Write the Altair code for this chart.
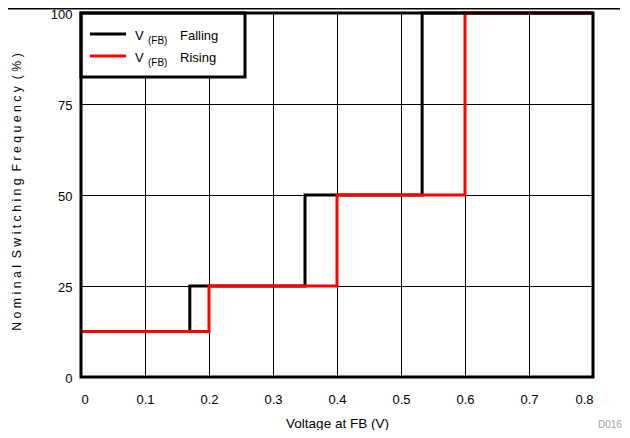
import altair as alt
import pandas as pd

# ---- data ----
series = ["Falling", "Rising"]
colors = ["#000000", "#ff0000"]
volts_falling = [0.0, 0.17, 0.35, 0.533, 0.8]
freq_falling = [12.5, 25, 50, 100, 100]
volts_rising = [0.0, 0.2, 0.4, 0.6, 0.8]
freq_rising = [12.5, 25, 50, 100, 100]
x_ticks = [0, 0.1, 0.2, 0.3, 0.4, 0.5, 0.6, 0.7, 0.8]
y_ticks = [0, 25, 50, 75, 100]
x_title = "Voltage at FB (V)"
y_words = ["Nominal", "Switching", "Frequency", "(%)"]
note = "D016"

NB = "\u00a0"
y_title = (NB * 2).join(NB.join(list(w)) for w in y_words)

FONT = "Liberation Sans"
W, H = 512, 364

df = pd.concat([
    pd.DataFrame({"v": volts_falling, "f": freq_falling, "s": series[0], "o": 0}),
    pd.DataFrame({"v": volts_rising, "f": freq_rising, "s": series[1], "o": 1}),
])
one = pd.DataFrame({"k": [0]})

lines = alt.Chart(df).mark_line(interpolate="step-after", strokeWidth=3).encode(
    x=alt.X("v:Q", scale=alt.Scale(domain=[0, 0.8], nice=False),
            axis=alt.Axis(values=x_ticks, title=x_title,
                          labelExpr="datum.value == 0 ? '0' : format(datum.value, '.1f')",
                          labelPadding=16, titleX=W / 2, titleY=50,
                          titleBaseline="alphabetic", titleFontSize=13.5)),
    y=alt.Y("f:Q", scale=alt.Scale(domain=[0, 100], nice=False),
            axis=alt.Axis(values=y_ticks, title=y_title, format="d",
                          labelPadding=9, labelOffset=1, titleX=-64.5, titleY=178.5,
                          titleAngle=270, titleAlign="center",
                          titleBaseline="middle", titleFontSize=12.3)),
    color=alt.Color("s:N", scale=alt.Scale(domain=series, range=colors), legend=None),
    detail="o:O",
)

base1 = alt.Chart(one)

legend_box = base1.mark_rect(fill="white", stroke="black", strokeWidth=3).encode(
    x=alt.value(0), x2=alt.value(164), y=alt.value(0), y2=alt.value(64))

legend_parts = [legend_box]
rows_y = [21, 43]
for i, s in enumerate(series):
    yy = rows_y[i]
    legend_parts.append(base1.mark_rule(color=colors[i], strokeWidth=3).encode(
        x=alt.value(9), x2=alt.value(45), y=alt.value(yy)))
    legend_parts.append(base1.mark_text(align="left", baseline="alphabetic", font=FONT,
                                        fontSize=13, color="black").encode(
        x=alt.value(54), y=alt.value(yy + 6), text=alt.value("V")))
    legend_parts.append(base1.mark_text(align="left", baseline="alphabetic", font=FONT,
                                        fontSize=10, color="black").encode(
        x=alt.value(67), y=alt.value(yy + 10), text=alt.value("(FB)")))
    legend_parts.append(base1.mark_text(align="left", baseline="alphabetic", font=FONT,
                                        fontSize=13, color="black").encode(
        x=alt.value(99), y=alt.value(yy + 6), text=alt.value(s)))

frame = base1.mark_rect(fill=None, filled=False, stroke="black", strokeWidth=3).encode(
    x=alt.value(0), x2=alt.value(W), y=alt.value(0), y2=alt.value(H))

top_rule = base1.mark_rule(color="black", strokeWidth=1.5).encode(
    x=alt.value(-73), x2=alt.value(539), y=alt.value(-4.25))

note_text = base1.mark_text(align="left", baseline="alphabetic", font=FONT,
                            fontSize=10, color="#a0a0a0").encode(
    x=alt.value(517), y=alt.value(415), text=alt.value(note))

chart = alt.layer(lines, *legend_parts, frame, top_rule, note_text).properties(
    width=W, height=H,
    padding={"left": 73, "top": 5, "right": 29, "bottom": 53},
    autosize=alt.AutoSizeParams(type="none"),
).configure_view(stroke=None).configure_axis(
    grid=True, gridColor="black", gridWidth=1, gridOpacity=1,
    domain=False, ticks=False,
    labelFont=FONT, labelFontSize=13, labelColor="black",
    titleFont=FONT, titleColor="black", titleFontWeight="normal",
)

chart.save("out.html", embed_options={"renderer": "svg", "actions": False})
